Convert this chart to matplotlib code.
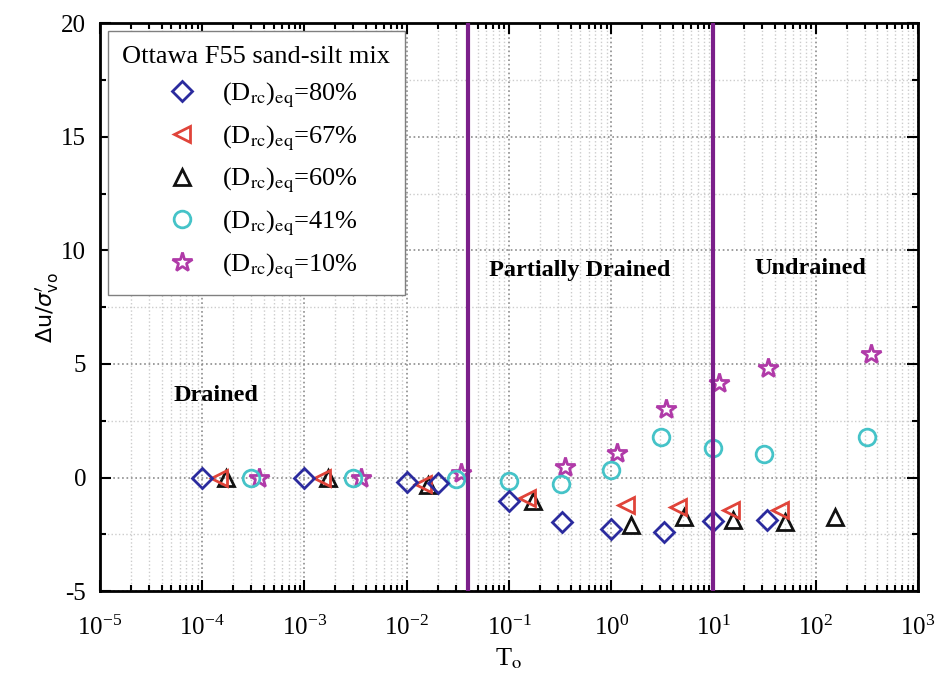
import numpy as np
import matplotlib
matplotlib.use('Agg')
from matplotlib import pyplot as plt
from matplotlib.ticker import MultipleLocator, FixedLocator

plt.rcParams['font.family'] = 'Liberation Serif'
plt.rcParams['mathtext.fontset'] = 'stix'
plt.rcParams['axes.unicode_minus'] = False

# Excess pore pressure ratio vs. normalised time, per equivalent relative density
d80_x = [1e-4, 1e-3, 0.01, 0.02, 0.1, 0.33, 1.0, 3.3, 10, 33]
d80_y = [0, 0, -0.2, -0.25, -1.05, -1.95, -2.25, -2.4, -1.9, -1.85]

d67_x = [1.45e-4, 1.5e-3, 0.0145, 0.15, 1.4, 4.5, 14.7, 45]
d67_y = [0, 0, -0.3, -0.92, -1.23, -1.3, -1.45, -1.45]

d60_x = [1.7e-4, 1.7e-3, 0.016, 0.17, 1.55, 5.1, 15.4, 50, 155]
d60_y = [0, 0, -0.35, -1.05, -2.1, -1.75, -1.85, -1.98, -1.75]

d41_x = [3.0e-4, 3.0e-3, 0.03, 0.1, 0.32, 1.0, 3.1, 10, 31, 316]
d41_y = [0, 0, -0.05, -0.15, -0.28, 0.35, 1.78, 1.28, 1.05, 1.78]

d10_x = [3.6e-4, 3.6e-3, 0.034, 0.35, 1.13, 3.4, 11.2, 34, 350]
d10_y = [0, 0, 0.2, 0.48, 1.1, 3.0, 4.14, 4.8, 5.42]

labels = ['80', '67', '60', '41', '10']
boundaries = [0.04, 10]

fig = plt.figure(figsize=(9.43, 6.81), dpi=100)
ax = fig.add_axes([0.106, 0.132, 0.8675, 0.834])

def lab(v):
    return r'(D$_{\rm rc}$)$_{\rm eq}$=' + v + '%'

ms = 12
ax.plot(d80_x, d80_y, 'D', ms=ms-2, mfc='none', mec='#2b2b9e', mew=2, ls='none', label=lab(labels[0]), zorder=5)
ax.plot(d67_x, d67_y, '<', ms=ms, mfc='none', mec='#e0443a', mew=2, ls='none', label=lab(labels[1]), zorder=4)
ax.plot(d60_x, d60_y, '^', ms=ms, mfc='none', mec='#111111', mew=2, ls='none', label=lab(labels[2]), zorder=3)
ax.plot(d41_x, d41_y, 'o', ms=ms, mfc='none', mec='#45c3c8', mew=2, ls='none', label=lab(labels[3]), zorder=4)
ax.plot(d10_x, d10_y, '*', ms=ms+3, mfc='none', mec='#b03aa8', mew=2, ls='none', label=lab(labels[4]), zorder=2)

# Drainage regime boundaries
for b in boundaries:
    ax.axvline(b, color='#7b1f8a', lw=3, zorder=6)

ax.set_xscale('log')
ax.set_xlim(1e-5, 1e3)
ax.set_ylim(-5, 20)
ax.yaxis.set_major_locator(MultipleLocator(5))
ax.yaxis.set_minor_locator(MultipleLocator(2.5))
decades = 10.0 ** np.arange(-5, 4)
ax.xaxis.set_major_locator(FixedLocator(decades))
ax.xaxis.set_minor_locator(FixedLocator([d * k for d in decades[:-1] for k in range(2, 10)]))

ax.grid(which='major', ls=':', color='0.55', lw=1.2)
ax.grid(which='minor', ls=':', color='0.8', lw=1)
ax.set_axisbelow(True)

ax.tick_params(which='both', direction='in', top=True, right=True, labelsize=18, width=1.5)
ax.tick_params(which='major', length=8)
ax.tick_params(which='minor', length=4)
ax.tick_params(axis='x', which='major', pad=18)
ax.tick_params(axis='y', which='major', pad=10)
for s in ax.spines.values():
    s.set_linewidth(2)

ax.set_xlabel(r'T$_{\rm o}$', fontsize=19, labelpad=4)
ax.set_ylabel(r"$\Delta$u/$\sigma^{\prime}_{\rm vo}$", fontsize=16, family='DejaVu Sans',
              math_fontfamily='dejavusans', labelpad=0)

ax.text(1.36e-4, 3.6, 'Drained', fontsize=17.5, fontweight='bold', ha='center', va='center')
ax.text(0.49, 9.1, 'Partially Drained', fontsize=17.5, fontweight='bold', ha='center', va='center')
ax.text(88, 9.2, 'Undrained', fontsize=17.5, fontweight='bold', ha='center', va='center')

leg = ax.legend(loc='upper left', bbox_to_anchor=(0.0098, 0.986), title='Ottawa F55 sand-silt mix',
                fontsize=19, title_fontsize=19, frameon=True, fancybox=False, edgecolor='0.5',
                framealpha=1, handlelength=2.0, handletextpad=0.5, labelspacing=0.5,
                borderpad=0.55, borderaxespad=0)
leg.get_frame().set_linewidth(1)
leg.set_zorder(10)

fig.savefig('out.png', dpi=100)
